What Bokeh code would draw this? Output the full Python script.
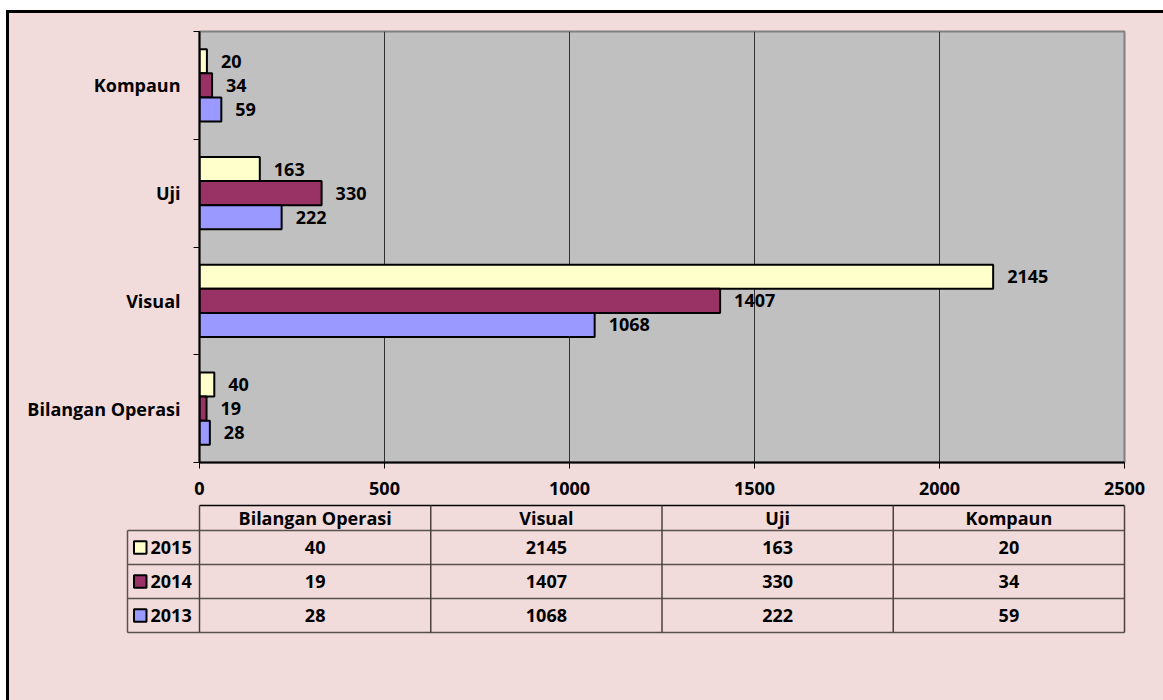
from bokeh.plotting import figure
from bokeh.layouts import column
from bokeh.models import Range1d, FixedTicker, ColumnDataSource
from bokeh.core.properties import value
from bokeh.embed import file_html
from bokeh.resources import INLINE

categories = ["Bilangan Operasi", "Visual", "Uji", "Kompaun"]
years = ["2015", "2014", "2013"]
v2015 = [40, 2145, 163, 20]
v2014 = [19, 1407, 330, 34]
v2013 = [28, 1068, 222, 59]
x_ticks = [0, 500, 1000, 1500, 2000, 2500]

series = [v2015, v2014, v2013]
colors = ["#ffffcc", "#993366", "#9999ff"]
offsets = [0.223, 0.0, -0.223]

FONT = "Open Sans"
FS = "18px"
PINK = "#f2dcdb"
W = 1160

p1 = figure(width=W, height=487, x_range=Range1d(0, 2500), y_range=Range1d(0, 4),
            output_backend="svg", toolbar_location=None,
            min_border_left=190, min_border_right=W - 190 - 925, min_border_top=18, min_border_bottom=38,
            background_fill_color="#c0c0c0", border_fill_color=PINK)
p1.outline_line_color = "#808080"
p1.outline_line_width = 2
p1.ygrid.grid_line_color = None
p1.xgrid.grid_line_color = "#303030"
p1.xgrid.grid_line_width = 1
p1.xgrid.ticker = FixedTicker(ticks=x_ticks)

xa = p1.xaxis[0]
xa.ticker = FixedTicker(ticks=x_ticks)
xa.axis_line_color = "black"
xa.axis_line_width = 2
xa.major_tick_out = 6
xa.major_tick_in = 0
xa.major_tick_line_color = "black"
xa.minor_tick_line_color = None
xa.major_label_standoff = 13
xa.major_label_text_font = FONT
xa.major_label_text_font_style = "bold"
xa.major_label_text_font_size = FS
xa.major_label_text_color = "black"

centers = [i + 0.5 for i in range(len(categories))]
ya = p1.yaxis[0]
ya.ticker = FixedTicker(ticks=centers, minor_ticks=list(range(len(categories) + 1)))
ya.major_label_overrides = {c: name for c, name in zip(centers, categories)}
ya.axis_line_color = "black"
ya.axis_line_width = 2
ya.major_tick_out = 0
ya.major_tick_in = 0
ya.major_tick_line_color = None
ya.minor_tick_out = 6
ya.minor_tick_in = 0
ya.minor_tick_line_color = "black"
ya.major_label_standoff = 13
ya.major_label_text_font = FONT
ya.major_label_text_font_style = "bold"
ya.major_label_text_font_size = FS
ya.major_label_text_color = "black"

for vals, col, off in zip(series, colors, offsets):
    src = ColumnDataSource(dict(y=[c + off for c in centers], v=vals, t=[str(v) for v in vals]))
    p1.hbar(y="y", left=0, right="v", height=0.223, source=src,
            fill_color=col, line_color="black", line_width=2)
    p1.text(x="v", y="y", text="t", source=src, x_offset=14,
            text_align="left", text_baseline="middle",
            text_font=value(FONT), text_font_style="bold", text_font_size=FS,
            text_color="black")

# ---------- data table (frame aligned with the chart's plot area) ----------
colw = 925 / 4.0
rowh = 34.0
n = len(categories)
nr = len(years)
H2 = 205
p2 = figure(width=W, height=H2,
            x_range=Range1d(0, n),
            y_range=Range1d(-(H2 - 132) / rowh, 132 / rowh),
            output_backend="svg", toolbar_location=None,
            x_axis_location=None, y_axis_location=None,
            min_border_left=190, min_border_right=W - 190 - 925, min_border_top=0, min_border_bottom=0,
            background_fill_color=PINK, border_fill_color=PINK)
p2.outline_line_color = None
p2.grid.grid_line_color = None

head_top = nr + 25 / rowh
leg_left = -72 / colw
LVL = "annotation"

p2.segment(x0=[0], y0=[head_top], x1=[n], y1=[head_top], line_color="black", line_width=1.5, level=LVL)
p2.segment(x0=[leg_left] * (nr + 1), y0=list(range(nr + 1)), x1=[n] * (nr + 1), y1=list(range(nr + 1)),
           line_color="#5a5050", line_width=1.5, level=LVL)
p2.segment(x0=list(range(n + 1)), y0=[0] * (n + 1), x1=list(range(n + 1)), y1=[head_top] * (n + 1),
           line_color="#4a4040", line_width=1.5, level=LVL)
p2.segment(x0=[leg_left], y0=[0], x1=[leg_left], y1=[nr], line_color="#5a5050", line_width=1.5, level=LVL)

p2.text(x=[i + 0.5 for i in range(n)], y=[nr + 12.5 / rowh] * n, text=categories,
        text_align="center", text_baseline="middle",
        text_font=value(FONT), text_font_style="bold", text_font_size=FS, text_color="black")

kx0 = leg_left + 6.5 / colw
kx1 = leg_left + 19 / colw
kh = 6.25 / rowh
for r, (yr, vals, col) in enumerate(zip(years, series, colors)):
    yc = nr - r - 0.5
    p2.text(x=[i + 0.5 for i in range(n)], y=[yc] * n, text=[str(v) for v in vals],
            text_align="center", text_baseline="middle",
            text_font=value(FONT), text_font_style="bold", text_font_size=FS, text_color="black")
    # legend key (outside the frame, drawn as a patch so it is not culled)
    p2.patch(x=[kx0, kx1, kx1, kx0], y=[yc - kh, yc - kh, yc + kh, yc + kh],
             fill_color=col, line_color="black", line_width=2, level=LVL)
    p2.text(x=[leg_left], y=[yc], text=[yr], x_offset=23,
            text_align="left", text_baseline="middle",
            text_font=value(FONT), text_font_style="bold", text_font_size=FS, text_color="black",
            level=LVL)

layout = column(p1, p2, spacing=0,
                styles={"margin-left": "9px", "margin-top": "13px",
                        "box-shadow": "-3px -3px 0px 0px #000000",
                        "background-color": PINK})

open("out.html", "w").write(file_html(layout, INLINE))
